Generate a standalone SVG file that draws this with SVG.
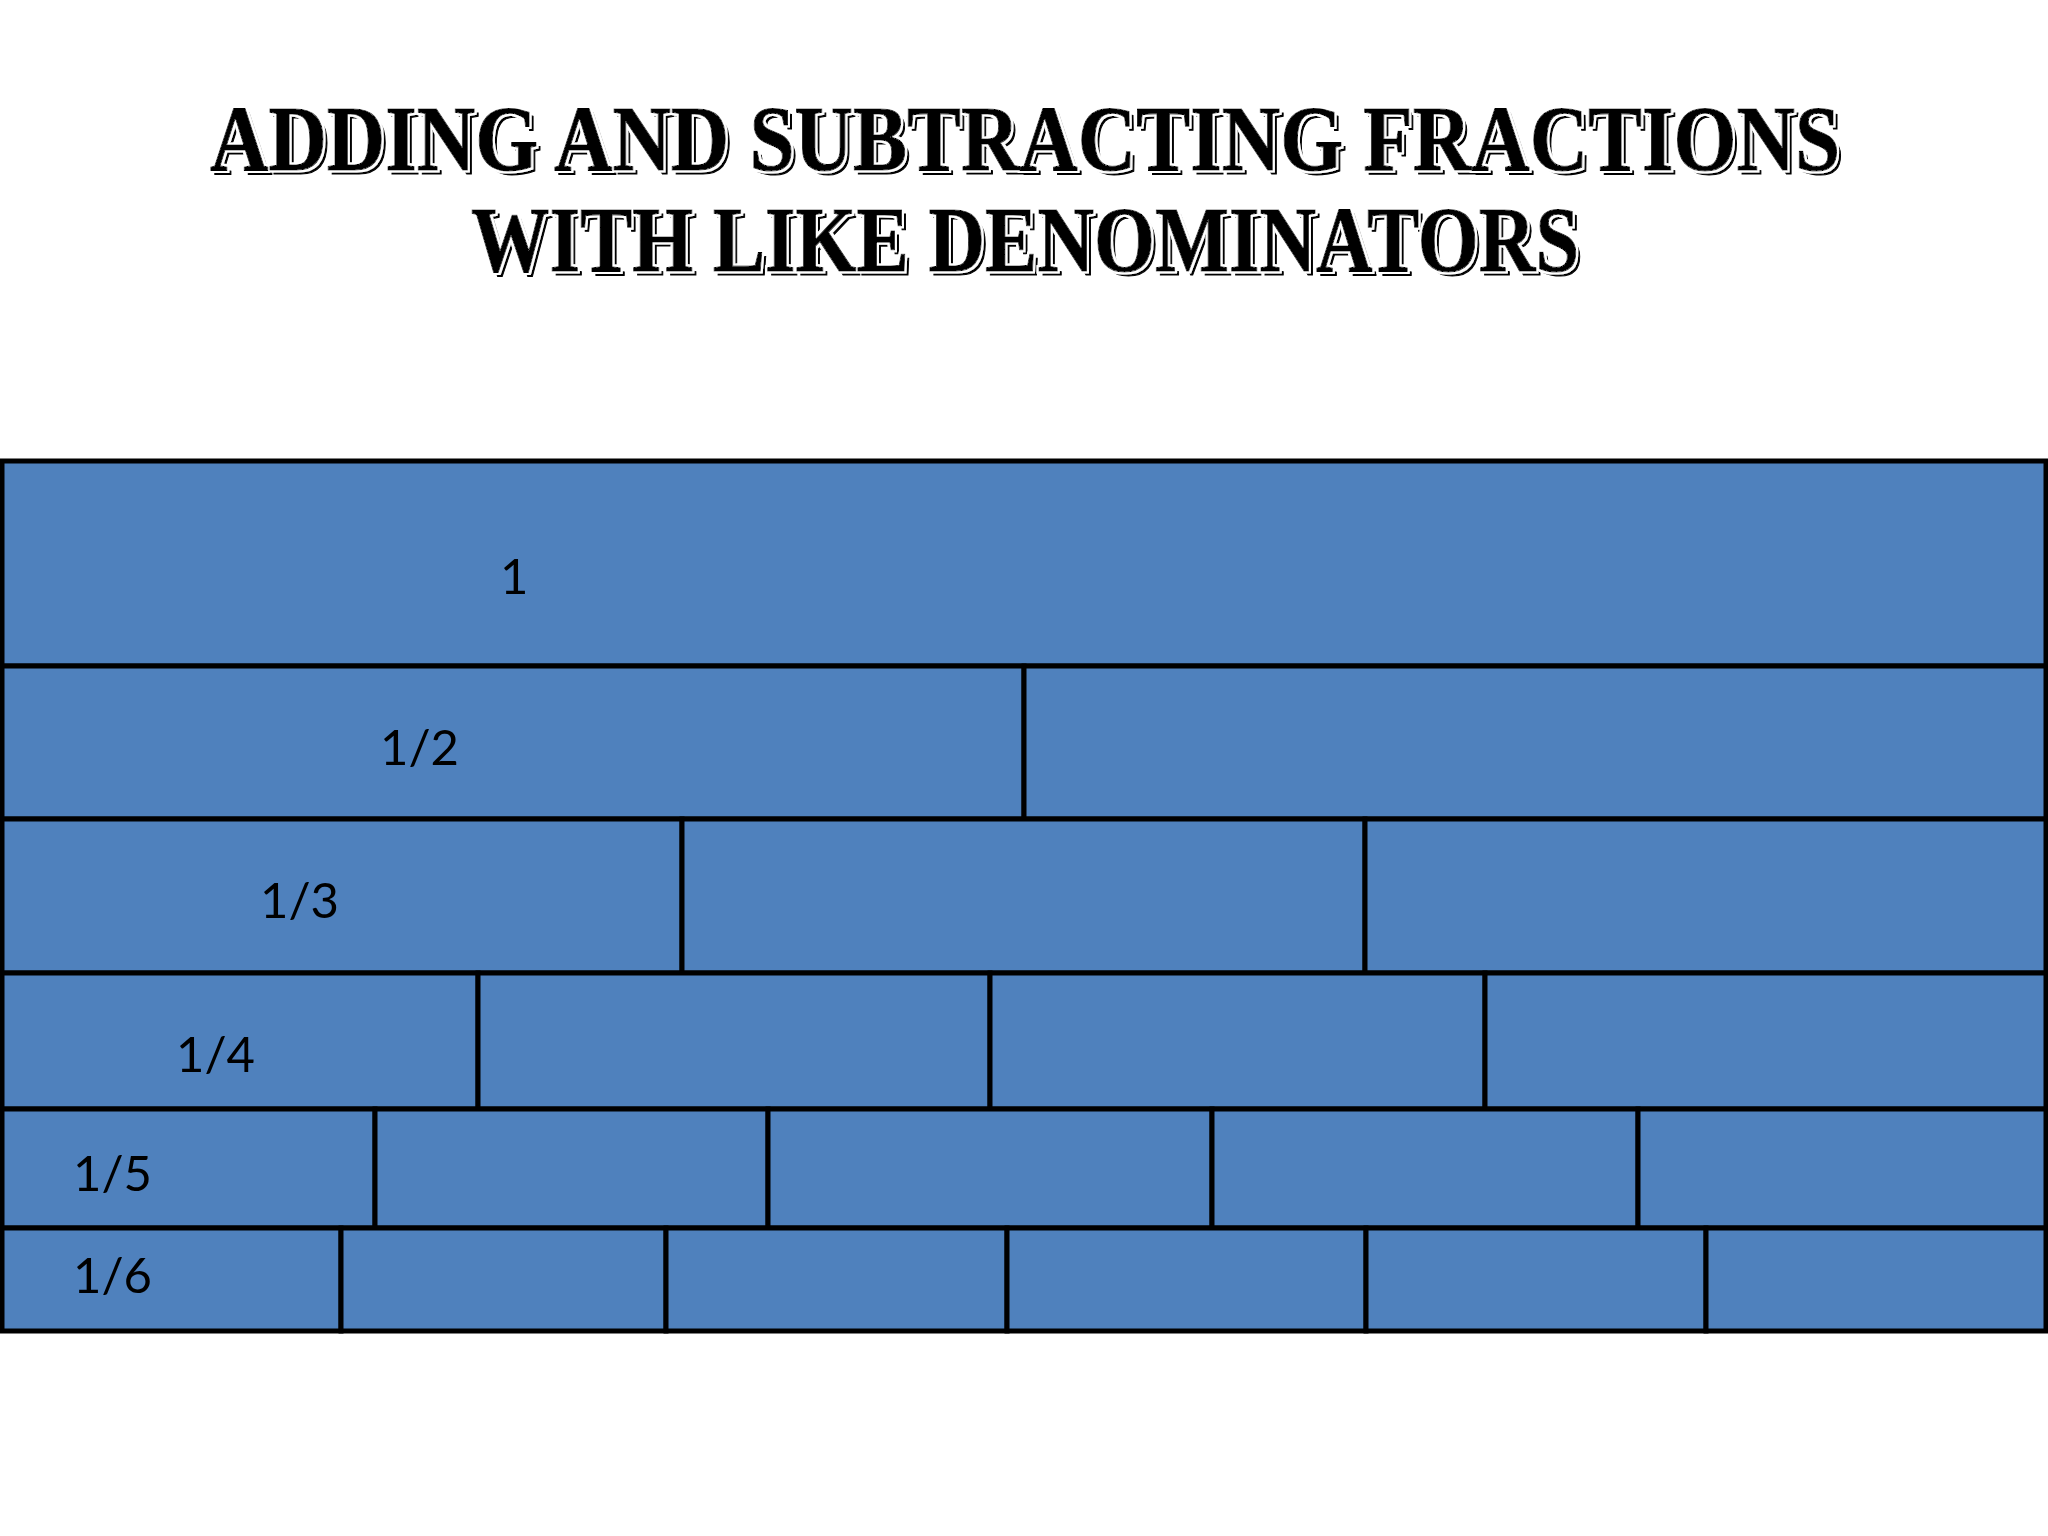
<svg xmlns="http://www.w3.org/2000/svg" width="2048" height="1536" viewBox="0 0 2048 1536">
  <style>
    .cell { fill: #4F81BD; stroke: #000; stroke-width: 5; }
    .lbl { font-family: Lato, "Open Sans", "Liberation Sans", sans-serif; font-size: 49px; fill: #000; }
    .title { font-family: "Liberation Serif", "DejaVu Serif", serif; font-weight: bold; font-size: 84px; fill: #000; stroke: #000; stroke-width: 1; }
  </style>
  <defs>
    <filter id="deco" x="-0.05" y="-0.3" width="1.1" height="1.6">
      <feMorphology in="SourceAlpha" operator="dilate" radius="1.6" result="dil"/>
      <feFlood flood-color="#ffffff"/>
      <feComposite in2="dil" operator="in" result="halo"/>
      <feOffset in="SourceAlpha" dx="4" dy="4" result="off"/>
      <feMerge>
        <feMergeNode in="off"/>
        <feMergeNode in="halo"/>
        <feMergeNode in="SourceGraphic"/>
      </feMerge>
    </filter>
  </defs>
  <rect x="0" y="0" width="2048" height="1536" fill="#fff"/>

  <g id="title">
    <text class="title" filter="url(#deco)" x="1025" y="170" text-anchor="middle" textLength="1630" lengthAdjust="spacingAndGlyphs" transform="translate(1025 170) scale(1 1.1) translate(-1025 -170)">ADDING AND SUBTRACTING FRACTIONS</text>
    <text class="title" filter="url(#deco)" x="1025" y="271" text-anchor="middle" textLength="1108" lengthAdjust="spacingAndGlyphs" transform="translate(1025 271) scale(1 1.1) translate(-1025 -271)">WITH LIKE DENOMINATORS</text>
  </g>

  <g id="row-1">
    <g id="cell-1-1"><rect class="cell" x="2" y="461" width="2044" height="205"/><text class="lbl" x="500" y="594">1</text></g>
  </g>

  <g id="row-2">
    <g id="cell-2-1"><rect class="cell" x="2" y="666" width="1022" height="153"/><text class="lbl" x="380" y="765">1/2</text></g>
    <g id="cell-2-2"><rect class="cell" x="1024" y="666" width="1022" height="153"/></g>
  </g>

  <g id="row-3">
    <g id="cell-3-1"><rect class="cell" x="2" y="819" width="680" height="154"/><text class="lbl" x="260" y="918">1/3</text></g>
    <g id="cell-3-2"><rect class="cell" x="682" y="819" width="683" height="154"/></g>
    <g id="cell-3-3"><rect class="cell" x="1365" y="819" width="681" height="154"/></g>
  </g>

  <g id="row-4">
    <g id="cell-4-1"><rect class="cell" x="2" y="973" width="476" height="136"/><text class="lbl" x="176" y="1072">1/4</text></g>
    <g id="cell-4-2"><rect class="cell" x="478" y="973" width="512" height="136"/></g>
    <g id="cell-4-3"><rect class="cell" x="990" y="973" width="495" height="136"/></g>
    <g id="cell-4-4"><rect class="cell" x="1485" y="973" width="561" height="136"/></g>
  </g>

  <g id="row-5">
    <g id="cell-5-1"><rect class="cell" x="2" y="1109" width="373" height="119"/><text class="lbl" x="73" y="1191">1/5</text></g>
    <g id="cell-5-2"><rect class="cell" x="375" y="1109" width="393" height="119"/></g>
    <g id="cell-5-3"><rect class="cell" x="768" y="1109" width="444" height="119"/></g>
    <g id="cell-5-4"><rect class="cell" x="1212" y="1109" width="426" height="119"/></g>
    <g id="cell-5-5"><rect class="cell" x="1638" y="1109" width="408" height="119"/></g>
  </g>

  <g id="row-6">
    <g id="cell-6-1"><rect class="cell" x="2" y="1228" width="339" height="103"/><text class="lbl" x="73" y="1293">1/6</text></g>
    <g id="cell-6-2"><rect class="cell" x="341" y="1228" width="325" height="103"/></g>
    <g id="cell-6-3"><rect class="cell" x="666" y="1228" width="341" height="103"/></g>
    <g id="cell-6-4"><rect class="cell" x="1007" y="1228" width="359" height="103"/></g>
    <g id="cell-6-5"><rect class="cell" x="1366" y="1228" width="340" height="103"/></g>
    <g id="cell-6-6"><rect class="cell" x="1706" y="1228" width="340" height="103"/></g>
  </g>

  <g id="connectors"/>
</svg>
